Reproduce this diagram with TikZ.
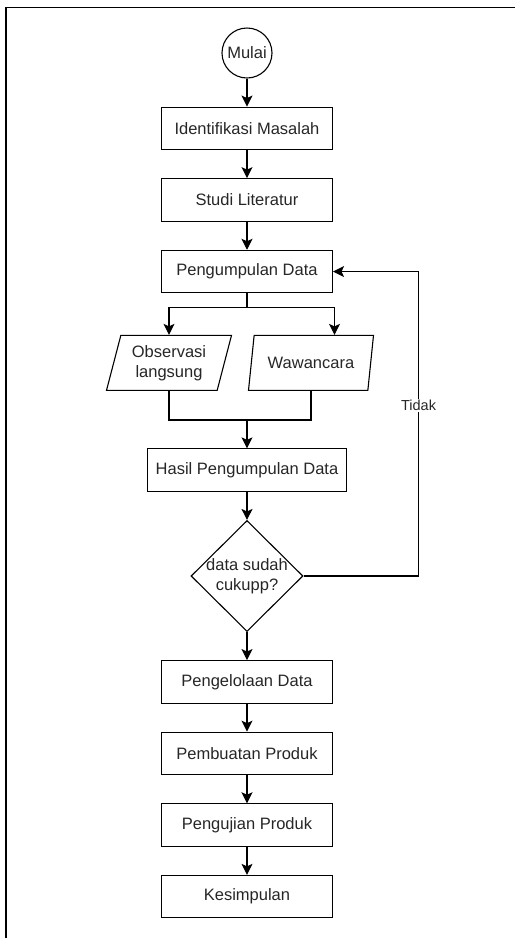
\documentclass[tikz,border=0pt]{standalone}
\usepackage{fontspec}
\setmainfont{Liberation Sans}
\usetikzlibrary{shapes.geometric,arrows.meta,positioning}

\begin{document}
\begin{tikzpicture}[
  font=\fontsize{16.5}{20}\selectfont, >={Stealth[length=11pt,width=11pt,inset=2.5pt]},
  line width=1.1pt, text=black!85,
  node distance = 28pt and 20pt,
  box/.style  = {draw, rectangle, align=center,
                 minimum width=171pt, minimum height=42.5pt, inner sep=2pt},
  wide/.style = {box, minimum width=199pt},
  term/.style = {draw, circle, minimum size=50pt, inner sep=0pt},
  io/.style   = {draw, trapezium, trapezium left angle=70, trapezium right angle=110,
                 trapezium stretches body, minimum width=125pt, minimum height=55pt,
                 inner xsep=0pt, inner ysep=2pt, text width=75pt, align=center},
  cond/.style = {draw, diamond, minimum width=112pt, minimum height=111pt, inner sep=0pt},
  lbl/.style  = {fill=white, font=\fontsize{14.5}{17}\selectfont, inner sep=1pt}
]
\useasboundingbox (0,0) rectangle (515pt,-938pt);
% frame of the page
\draw[line width=1.8pt] (6pt,-938pt) -- (6pt,-7.5pt) -- (515pt,-7.5pt);

\node[term] (mulai) at (247pt,-53pt) {Mulai};
\node[box, below=of mulai]  (ident)  {Identifikasi Masalah};
\node[box, below=of ident]  (studi)  {Studi Literatur};
\node[box, below=of studi]  (kumpul) {Pengumpulan Data};

\node[io, below=41.5pt of kumpul.south, xshift=-78pt] (obs) {Observasi\\langsung};
\node[io, below=41.5pt of kumpul.south, xshift=64pt]  (waw) {\makebox[75pt]{Wawancara}};

\node[wide, below=155pt of kumpul] (hasil) {Hasil Pengumpulan Data};
\node[cond, below=of hasil] (cek) {};
\node[align=center] (cektxt) at (cek) {data sudah\\cukupp?};

\node[box, below=of cek]   (olah)  {Pengelolaan Data};
\node[box, below=of olah]  (buat)  {Pembuatan Produk};
\node[box, below=of buat]  (uji)   {Pengujian Produk};
\node[box, below=of uji]   (simp)  {Kesimpulan};

\draw[->] (mulai) -- (ident);
\draw[->] (ident) -- (studi);
\draw[->] (studi) -- (kumpul);
\draw (kumpul.south) -- ++(0,-14pt) coordinate (fork);
\draw[->] (fork) -| (obs.north);
\draw[->] (fork) -| ([xshift=23.5pt]waw.north);
\draw (obs.south) -- ++(0,-29pt) coordinate (merge) -| (waw.south);
\draw[->] (merge -| hasil.north) -- (hasil.north);
\draw[->] (hasil) -- (cek);
\draw[->] (cek.east) -- ++(115pt,0) coordinate (back)
  |- node[lbl, pos=0.28] (tidak) {Tidak} (kumpul.east);
\draw[->] (cek) -- (olah);
\draw[->] (olah) -- (buat);
\draw[->] (buat) -- (uji);
\draw[->] (uji) -- (simp);

\end{tikzpicture}
\end{document}
